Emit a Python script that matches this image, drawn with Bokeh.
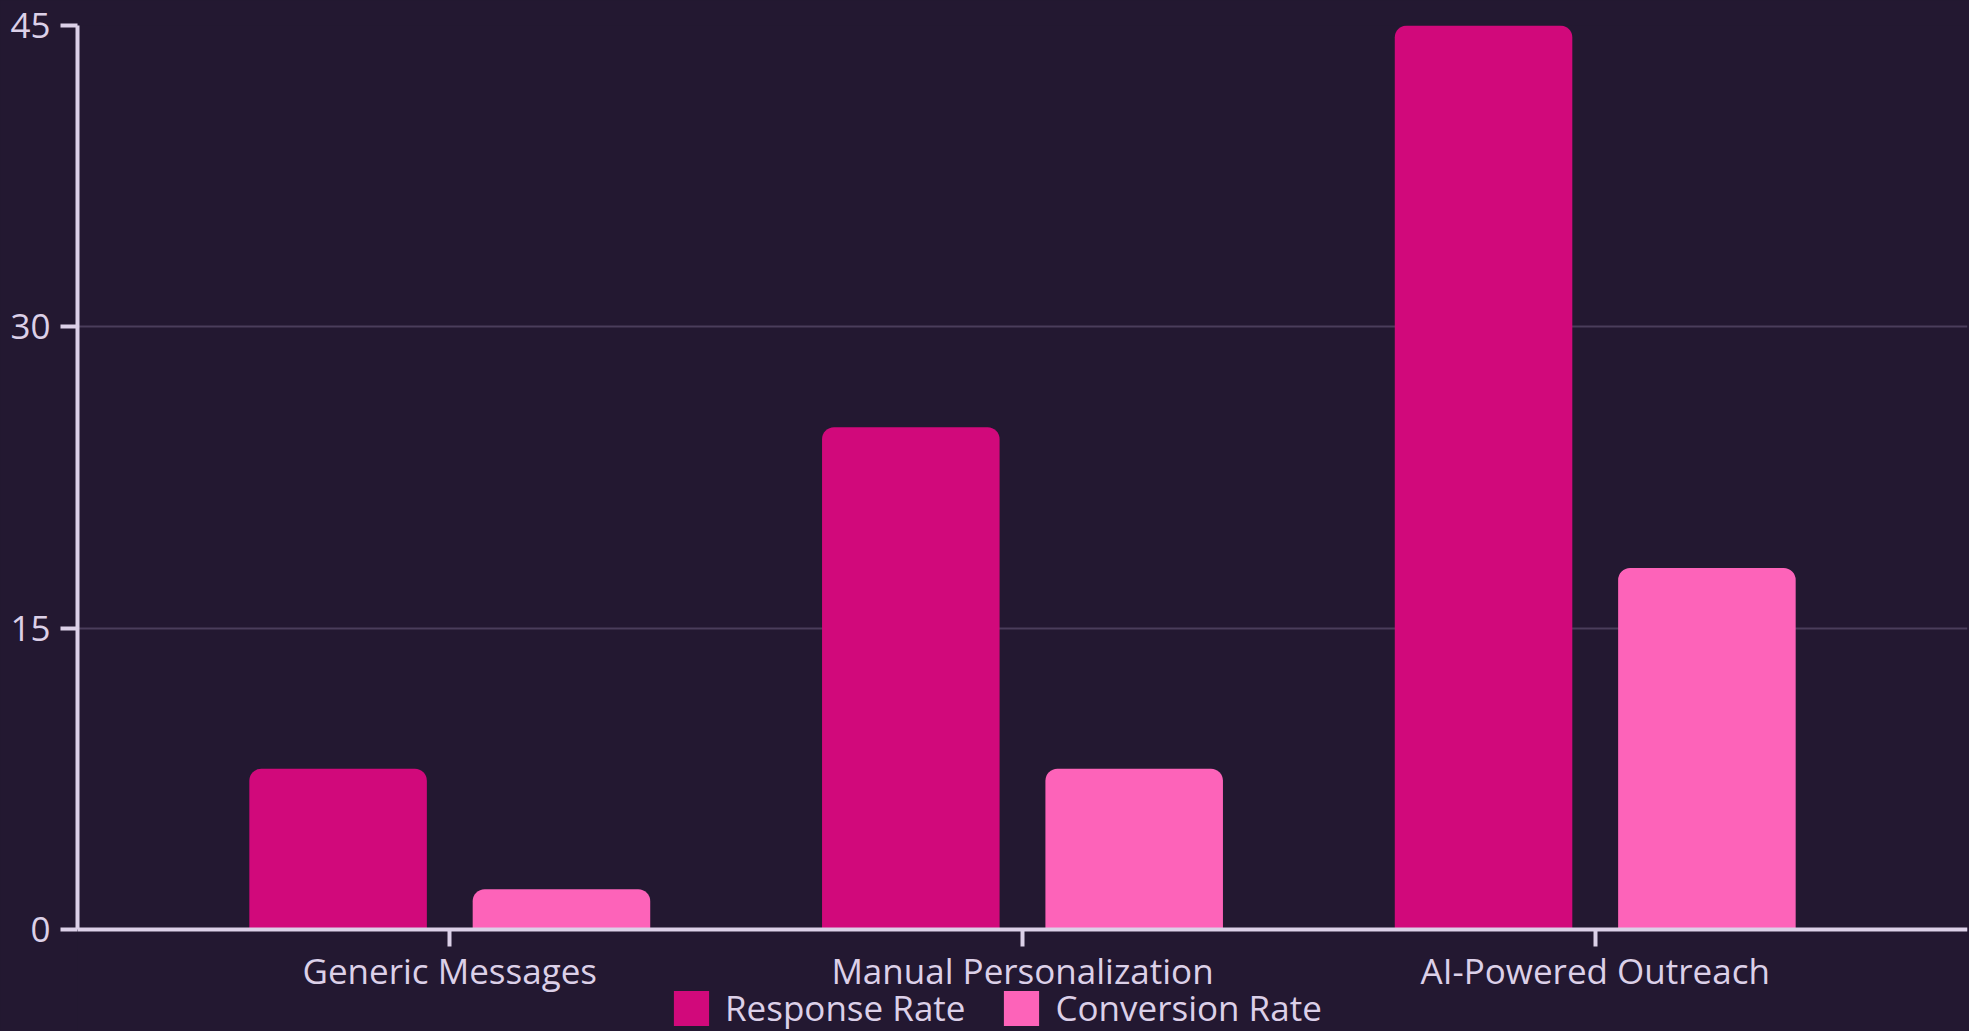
from bokeh.plotting import figure
from bokeh.models import FactorRange, Range1d, FixedTicker, ColumnDataSource, Legend
from bokeh.transform import dodge
from bokeh.embed import file_html
from bokeh.resources import INLINE

categories = ["Generic Messages", "Manual Personalization", "AI-Powered Outreach"]
response_rate = [8, 25, 45]
conversion_rate = [2, 8, 18]
y_ticks = [0, 15, 30, 45]

BG = "#231831"
TXT = "#dcd0e8"
FONT = "Open Sans"

src = ColumnDataSource(dict(cat=categories, resp=response_rate, conv=conversion_rate))

# frame reaches the page bottom; the value axis shows 0..45, the extra room below 0
# holds the category labels and the legend
p = figure(
    x_range=FactorRange(factors=categories, range_padding=0.1),
    y_range=Range1d(-5.077, 45),
    frame_width=1890, frame_height=1006,
    output_backend="svg", toolbar_location=None,
    min_border_top=25, min_border_left=77, min_border_right=2, min_border_bottom=0,
)
p.background_fill_color = BG
p.border_fill_color = BG
p.outline_line_color = None
p.styles = {"background-color": BG}

r1 = p.vbar(x=dodge("cat", -0.195, range=p.x_range), top="resp", width=0.31, source=src,
            color="#d1097b", line_color=None, border_radius=(12, 12, 0, 0))
r2 = p.vbar(x=dodge("cat", 0.195, range=p.x_range), top="conv", width=0.31, source=src,
            color="#fd63b9", line_color=None, border_radius=(12, 12, 0, 0))

p.xgrid.grid_line_color = None
p.ygrid.grid_line_color = "#4a3d5b"
p.ygrid.grid_line_width = 2
p.yaxis.ticker = FixedTicker(ticks=y_ticks)
p.yaxis.bounds = (0, 45)
p.xaxis.fixed_location = 0

for ax in (p.xaxis[0], p.yaxis[0]):
    ax.axis_line_color = TXT
    ax.axis_line_width = 4
    ax.major_tick_line_color = TXT
    ax.major_tick_line_width = 4
    ax.major_tick_out = 17
    ax.major_tick_in = 0
    ax.minor_tick_line_color = None
    ax.major_label_text_color = TXT
    ax.major_label_text_font = FONT
    ax.major_label_text_font_size = "35px"
p.xaxis.major_label_standoff = 0
p.yaxis.major_label_standoff = 10

legend = Legend(items=[("Response Rate", [r1]), ("Conversion Rate", [r2])],
                location=(592, 0), orientation="horizontal",
                background_fill_alpha=0, border_line_color=None,
                label_text_color=TXT, label_text_font=FONT, label_text_font_size="35px",
                glyph_width=44, glyph_height=44, label_standoff=12, spacing=34,
                padding=0, margin=0)
p.add_layout(legend, "center")

open("out.html", "w").write(file_html(p, INLINE))
